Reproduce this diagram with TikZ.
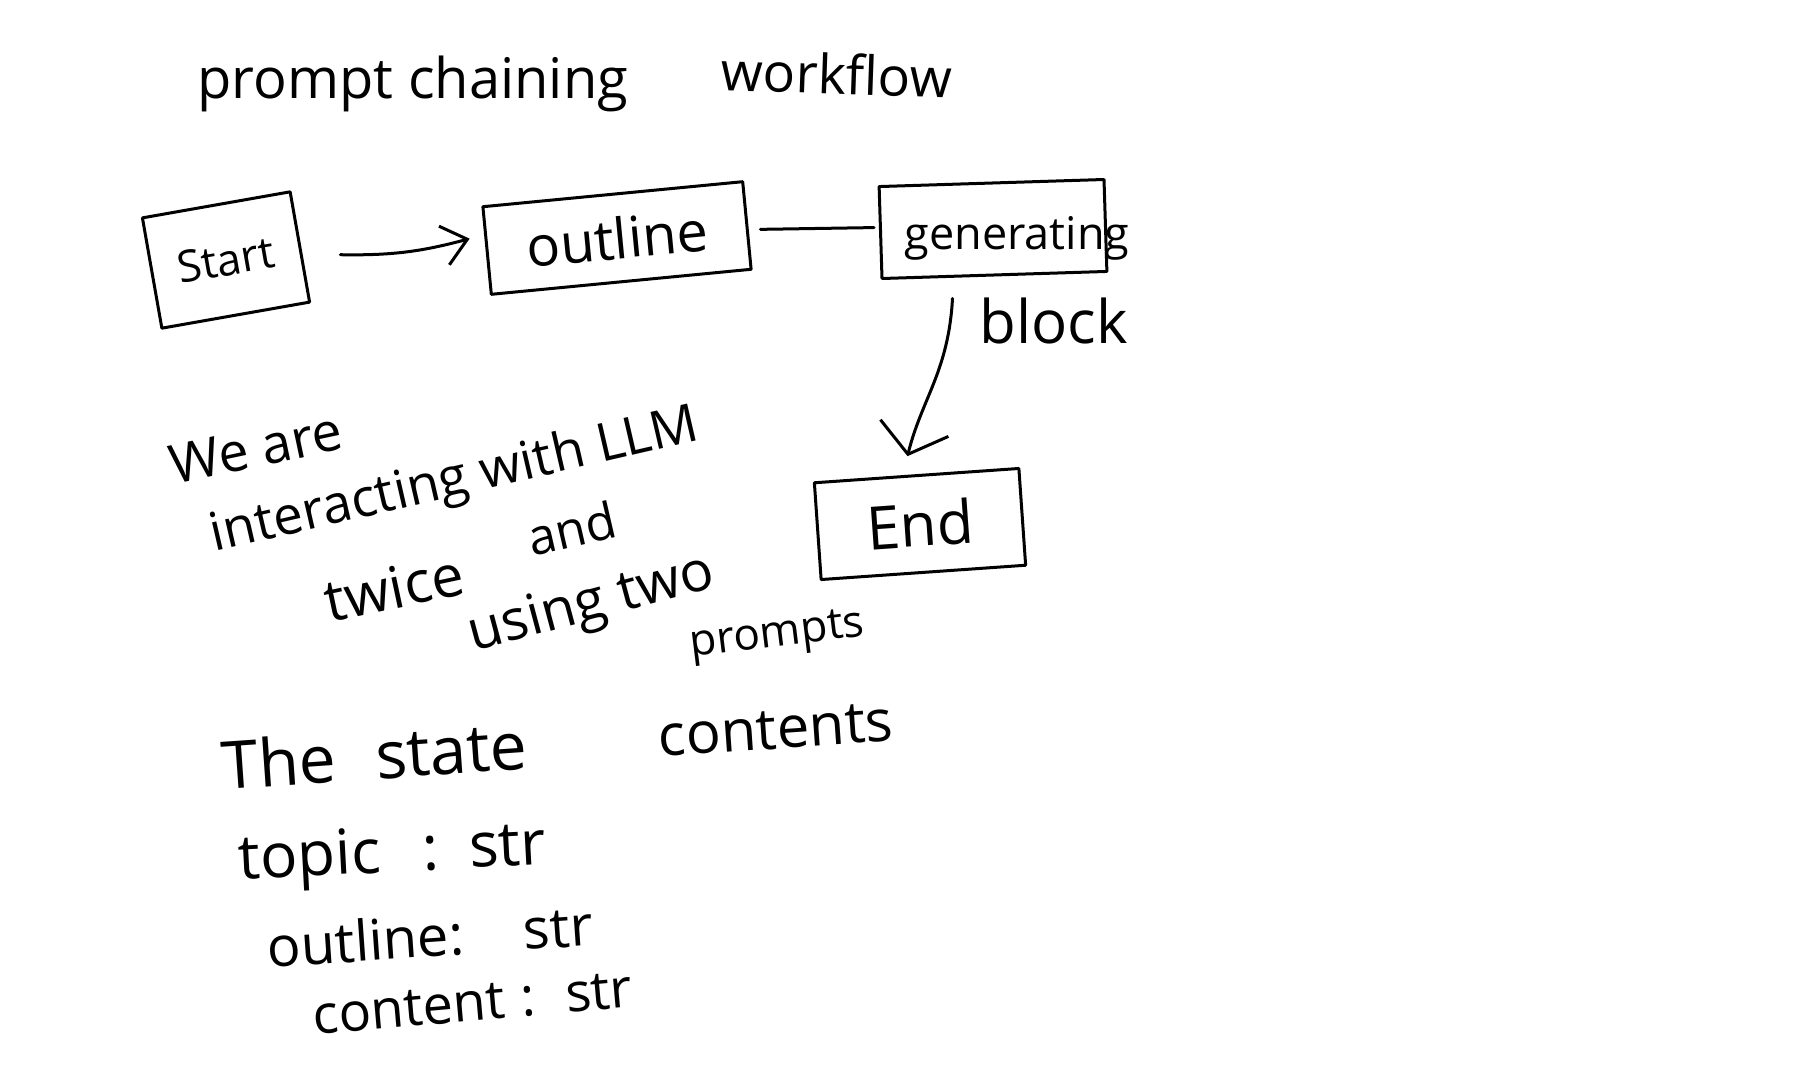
\documentclass[tikz,border=0pt]{standalone}
\usepackage{fontspec}
\setmainfont{Open Sans}
\usetikzlibrary{arrows.meta,calc}
\begin{document}
\begin{tikzpicture}[x=1pt,y=-1pt,line width=3.2pt,line cap=round,line join=round,
  hand/.style={font=\fontsize{#1}{#1}\selectfont,inner sep=0pt,anchor=base west},
  box/.style={draw,inner sep=0pt,line width=3pt},
  conn/.style={line width=3pt}]
\useasboundingbox[fill=white] (0,0) rectangle (1803,1074);

% title
\node[hand=56] (title1) at (196,98) {prompt chaining};
\node[hand=54,rotate=-2] (title2) at (719,90) {workflow};

% boxes
\node[box,rotate=10,minimum width=150pt,minimum height=112pt,font=\fontsize{44}{44}\selectfont] (start) at (226,260) {Start};
\node[box,rotate=5.5,minimum width=261pt,minimum height=88pt,font=\fontsize{56}{56}\selectfont] (outline) at (617,238) {outline};
\node[box,rotate=1.8,minimum width=225pt,minimum height=92pt] (gen) at (993,229) {};
\node[hand=45] (gentext) at (903,249) {generating};
\node[box,rotate=4,minimum width=205pt,minimum height=97pt,font=\fontsize{60}{60}\selectfont] (end) at (920,524) {End};

% connectors
\draw[conn,-{Straight Barb[length=24pt,width=40pt]}] ($(start.east)+(39,8)$) to[bend right=8] ($(outline.west)+(-16,-12)$);
\draw[conn] ($(outline.east)+(12,4)$) -- ($(gen.west)+(-5,-5)$);
\draw[conn,-{Straight Barb[length=27pt,width=70pt]}] ($(gen.south)+(-42,22)$) .. controls ($(gen.south)+(-46,95)$) and ($(end.north)+(5,-75)$) .. ($(end.north)+(-9,-18)$);
\node[hand=60] (block) at (978,343) {block};

% note
\node[hand=54,rotate=12] (n1) at (173,485) {We are};
\node[hand=53,rotate=13] (n2) at (213,552) {interacting with LLM};
\node[hand=50,rotate=13] (n3) at (531,557) {and};
\node[hand=58,rotate=12] (n4) at (328,623) {twice};
\node[hand=56,rotate=15] (n5) at (472,652) {using two};
\node[hand=44,rotate=7] (n6) at (690,657) {prompts};

% state
\node[hand=66,rotate=4] (s1) at (222,790) {The\hspace{40pt}state};
\node[hand=58,rotate=4] (s2) at (658,757) {contents};
\node[hand=62,rotate=3] (s3) at (238,880) {topic\hspace{42pt}:\hspace{30pt}str};
\node[hand=56,rotate=4] (s4) at (267,968) {outline:\hspace{60pt}str};
\node[hand=54,rotate=5] (s5) at (313,1035) {content\hspace{16pt}:\hspace{30pt}str};
\end{tikzpicture}
\end{document}
